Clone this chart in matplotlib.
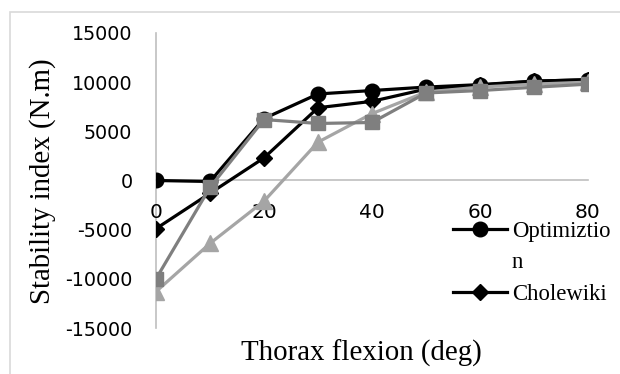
import matplotlib
matplotlib.use("Agg")
import matplotlib.pyplot as plt
from matplotlib.lines import Line2D
from matplotlib.patches import Rectangle

# Data
flexion = [0, 10, 20, 30, 40, 50, 60, 70, 80]
optimization = [0, -100, 6300, 8800, 9150, 9500, 9750, 10100, 10250]
cholewiki = [-4900, -1300, 2300, 7400, 8050, 9300, 9700, 10100, 10250]
series_sq = [-10000, -700, 6200, 5800, 5900, 8900, 9150, 9480, 9800]
series_tri = [-11300, -6400, -2100, 3900, 6800, 9000, 9500, 9800, 10000]
yticks = [-15000, -10000, -5000, 0, 5000, 10000, 15000]
xticks = [0, 20, 40, 60, 80]

W, H = 620, 374
fig = plt.figure(figsize=(W / 100, H / 100), dpi=100)
ax = fig.add_axes([156 / W, 1 - 328 / H, 432 / W, 295 / H])

lw = 2.3
ax.plot(flexion, optimization, color="black", lw=lw, marker="o", ms=10.5, zorder=3)
ax.plot(flexion, cholewiki, color="black", lw=lw, marker="D", ms=8, zorder=4)
ax.plot(flexion, series_tri, color="#a5a5a5", lw=lw, marker="^", ms=12, zorder=5)
ax.plot(flexion, series_sq, color="#7f7f7f", lw=lw, marker="s", ms=10, zorder=6)

for s in ["top", "right"]:
    ax.spines[s].set_visible(False)
ax.spines["left"].set_position(("data", 0))
ax.spines["bottom"].set_position(("data", 0))
for s in ["left", "bottom"]:
    ax.spines[s].set_color("#bfbfbf")
    ax.spines[s].set_linewidth(1.2)
    ax.spines[s].set_zorder(1)
ax.set_facecolor("none")

ax.set_xlim(0, 80)
ax.set_ylim(-15000, 15000)
ax.set_xticks(xticks)
ax.set_yticks(yticks)
ax.set_yticklabels([str(v) for v in yticks])
ax.set_xticklabels([str(v) for v in xticks])
ax.tick_params(axis="y", length=0, pad=17, labelsize=13.8, labelfontfamily="DejaVu Sans")
ax.tick_params(axis="x", length=0, pad=16, labelsize=14.5, labelfontfamily="DejaVu Sans")

# Axis titles
fig.text(43 / W, 1 - 181 / H, "Stability index (N.m)", rotation=90, ha="center", va="center",
         fontsize=20.8, family="Liberation Serif")
fig.text(361 / W, 1 - 361 / H, "Thorax flexion (deg)", ha="center", va="baseline",
         fontsize=20.8, family="Liberation Serif")

# Legend (only visible part)
handles = [
    Line2D([], [], color="black", lw=lw, marker="o", ms=10.5),
    Line2D([], [], color="none"),
    Line2D([], [], color="black", lw=lw, marker="D", ms=8),
]
labels = ["Optimiztio", "n", "Cholewiki"]
leg = fig.legend(handles, labels, loc="upper left", bbox_to_anchor=(453 / W, 1 - 221 / H),
                 frameon=False, prop={"family": "Liberation Serif", "size": 16.4},
                 handlelength=2.37, handletextpad=0.22, labelspacing=0.45,
                 borderpad=0, borderaxespad=0)
leg.set_zorder(10)

# Chart border
fig.patches.append(Rectangle((10 / W, -0.2), 1.2, 1 - 12 / H + 0.2, fill=False,
                             edgecolor="#d9d9d9", lw=1.2, transform=fig.transFigure))

fig.savefig("out.png", dpi=100)
